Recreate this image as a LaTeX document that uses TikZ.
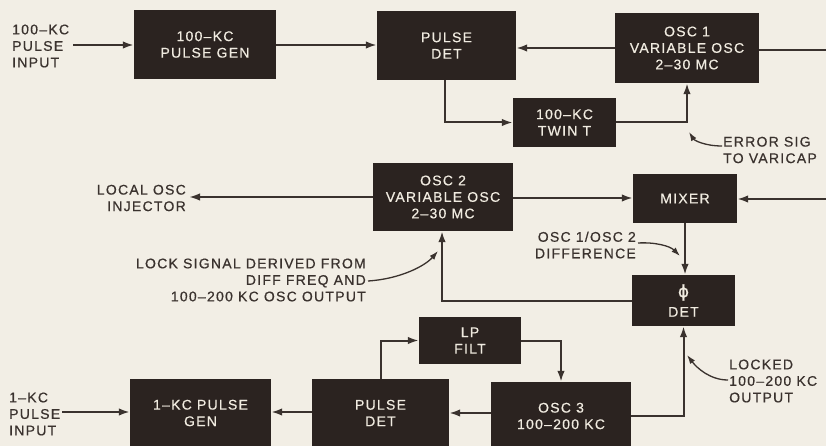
\documentclass[tikz,border=0pt]{standalone}
\usepackage{fontspec}
\setmainfont{Liberation Sans}[LetterSpace=9,FakeBold=0.6]
\newfontfamily\phifont{DejaVu Sans}[FakeBold=0.6]
\usetikzlibrary{arrows.meta}
\definecolor{paper}{HTML}{F2EEE5}
\definecolor{boxc}{HTML}{2B2320}
\definecolor{boxtxt}{HTML}{F0EBE0}
\definecolor{ink}{HTML}{3A322E}
\begin{document}
\begin{tikzpicture}[x=1pt,y=-1pt,
  font=\fontsize{14}{16.5}\selectfont,
  blk/.style={fill=boxc,text=boxtxt,inner sep=0pt,align=center},
  lbl/.style={text=ink,inner sep=0pt},
  wire/.style={draw=ink,line width=2pt},
  arr/.style={wire,-{Latex[length=11pt,width=7.5pt]}},
  note/.style={draw=ink,line width=1.3pt,-{Latex[length=9pt,width=6pt]}}]
\fill[paper] (0,0) rectangle (826,446);
\useasboundingbox (0,0) rectangle (826,446);

% blocks
\node[blk,minimum width=142pt,minimum height=69pt] (pg1) at (205,44.5) {100–KC\\PULSE GEN};
\node[blk,minimum width=139pt,minimum height=69pt] (pd1) at (446.5,45.5) {PULSE\\DET};
\node[blk,minimum width=144pt,minimum height=70pt] (osc1) at (687,48) {OSC 1\\VARIABLE OSC\\2–30 MC};
\node[blk,minimum width=103pt,minimum height=49pt] (twin) at (564.5,122.5) {100–KC\\TWIN T};
\node[blk,minimum width=140pt,minimum height=68pt] (osc2) at (443,197) {OSC 2\\VARIABLE OSC\\2–30 MC};
\node[blk,minimum width=104pt,minimum height=49pt] (mix) at (685,198.5) {MIXER};
\node[blk,minimum width=103pt,minimum height=51pt] (phi) at (683.5,300.5) {{\phifont\fontsize{17}{17}\selectfont\symbol{"03D5}}\\[3pt]DET};
\node[blk,minimum width=102pt,minimum height=47pt] (lpf) at (470,340.5) {LP\\FILT};
\node[blk,minimum width=140pt,minimum height=68pt] (osc3) at (561,416) {OSC 3\\100–200 KC};
\node[blk,minimum width=137pt,minimum height=68pt] (pd2) at (380.5,413) {PULSE\\DET};
\node[blk,minimum width=141pt,minimum height=68pt] (pg2) at (200.5,413) {1–KC PULSE\\GEN};

% labels
\node[lbl,anchor=west,align=left] (tin1) at (12,46) {100–KC\\PULSE\\INPUT};
\coordinate (in1) at (73,45);
\node[lbl,anchor=east,align=right] (tloc) at (186,198) {LOCAL OSC\\INJECTOR};
\coordinate (loc) at (189,197);
\node[lbl,anchor=west,align=left] (terr) at (723,150) {ERROR SIG\\TO VARICAP};
\coordinate (err) at (722,146);
\node[lbl,anchor=east,align=right] (tdif) at (636,245) {OSC 1/OSC 2\\DIFFERENCE};
\coordinate (dif) at (638,243);
\node[lbl,anchor=east,align=right] (tlock) at (366,280) {LOCK SIGNAL DERIVED FROM\\DIFF FREQ AND\\100–200 KC OSC OUTPUT};
\coordinate (lock) at (368,281);
\node[lbl,anchor=west,align=left] (tlkd) at (729,381) {LOCKED\\100–200 KC\\OUTPUT};
\coordinate (lkd) at (728,380);
\node[lbl,anchor=west,align=left] (tin2) at (9,414) {1–KC\\PULSE\\INPUT};
\coordinate (in2) at (62,412);
\coordinate (east1) at (826,50);
\coordinate (east2) at (826,199);

% connectors
\draw[arr] (in1) -- (pg1.west |- in1);
\draw[arr] (pg1.east |- 0,45) -- (pd1.west |- 0,45);
\draw[arr] (osc1.west) -- (osc1.west -| pd1.east);
\draw[wire] (osc1.east |- east1) -- (east1);
\draw[arr] (east2) -- (east2 -| mix.east);
\draw[arr] ([xshift=-2pt]pd1.south) |- (twin.west);
\draw[arr] (twin.east) -| (osc1.south);
\draw[arr] (osc2.west) -- (loc);
\draw[arr] (osc2.east |- 0,198) -- (mix.west |- 0,198);
\draw[arr] (mix.south) -- (mix.south |- phi.north);
\draw[arr] (phi.west) -| ([xshift=-1pt]osc2.south);
\draw[arr] (osc3.east) -| (phi.south);
\draw[arr] (osc3.west |- 0,413) -- (pd2.east |- 0,413);
\draw[arr] (pd2.west |- 0,412) -- (pg2.east |- 0,412);
\draw[arr] (in2) -- (pg2.west |- in2);
\draw[arr] (pd2.north) |- (lpf.west);
\draw[arr] (lpf.east) -| (osc3.north);

% annotation arrows
\draw[note] (err) .. controls (704,146) and (694,140) .. (689,132);
\draw[note] (dif) .. controls (655,242) and (670,246) .. (680,256);
\draw[note] (lock) .. controls (400,279) and (425,266) .. (438,251);
\draw[note] (lkd) .. controls (710,380) and (697,368) .. (687,355);
\end{tikzpicture}
\end{document}
